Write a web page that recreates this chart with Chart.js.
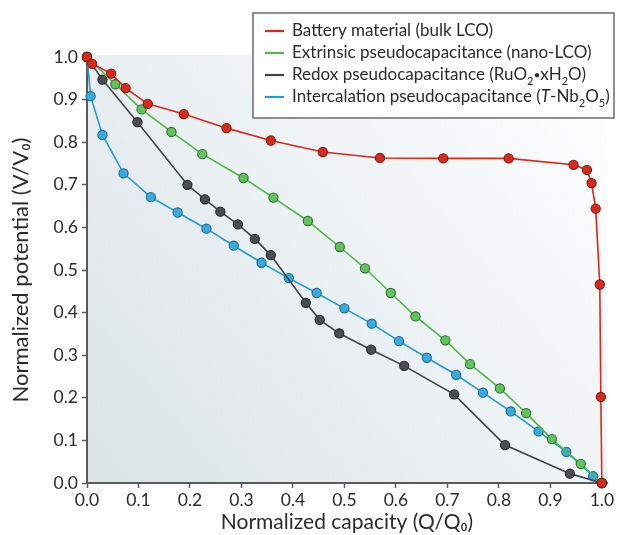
<!DOCTYPE html>
<html>
<head>
<meta charset="utf-8">
<script src="https://cdn.jsdelivr.net/npm/chart.js@4.4.1/dist/chart.umd.min.js"></script>
<style>
  html, body { margin: 0; padding: 0; background: #fff; }
  #wrap { width: 622px; height: 535px; position: relative; }
</style>
</head>
<body>
<div id="wrap"><canvas id="Chart1"></canvas></div>
<script>
// normalized capacity (Q/Q0) and potential (V/V0) for each material
var batteryQ = [0, 0.010, 0.047, 0.075, 0.118, 0.188, 0.271, 0.357, 0.458, 0.569, 0.692, 0.819, 0.945, 0.971, 0.980, 0.988, 0.996, 0.998, 1.0];
var batteryV = [1.0, 0.984, 0.961, 0.927, 0.890, 0.866, 0.833, 0.804, 0.777, 0.763, 0.762, 0.762, 0.747, 0.735, 0.704, 0.644, 0.466, 0.202, 0.0];

var extrinsicQ = [0, 0.055, 0.106, 0.164, 0.224, 0.304, 0.362, 0.429, 0.491, 0.540, 0.590, 0.638, 0.696, 0.744, 0.802, 0.853, 0.903, 0.959, 1.0];
var extrinsicV = [1.0, 0.936, 0.877, 0.824, 0.772, 0.716, 0.670, 0.615, 0.554, 0.504, 0.446, 0.391, 0.335, 0.279, 0.222, 0.164, 0.103, 0.045, 0.0];

var redoxQ = [0, 0.030, 0.098, 0.195, 0.229, 0.259, 0.293, 0.326, 0.357, 0.425, 0.452, 0.490, 0.552, 0.616, 0.713, 0.812, 0.938, 1.0];
var redoxV = [1.0, 0.947, 0.847, 0.700, 0.666, 0.637, 0.607, 0.573, 0.535, 0.423, 0.383, 0.351, 0.313, 0.275, 0.208, 0.089, 0.022, 0.0];

var intercalQ = [0, 0.007, 0.030, 0.071, 0.124, 0.176, 0.232, 0.285, 0.339, 0.392, 0.446, 0.500, 0.553, 0.606, 0.660, 0.717, 0.769, 0.823, 0.877, 0.931, 0.983, 1.0];
var intercalV = [1.0, 0.908, 0.817, 0.727, 0.671, 0.635, 0.597, 0.557, 0.517, 0.481, 0.446, 0.410, 0.374, 0.333, 0.294, 0.254, 0.212, 0.168, 0.121, 0.073, 0.016, 0.0];

var xTicks = [0, 0.1, 0.2, 0.3, 0.4, 0.5, 0.6, 0.7, 0.8, 0.9, 1.0];
var yTicks = [0, 0.1, 0.2, 0.3, 0.4, 0.5, 0.6, 0.7, 0.8, 0.9, 1.0];

// legend entries as text runs: [text, style] where style is '', 'sub', 'dot' or 'it'
var legendRuns = [
	[["Battery material (bulk LCO)", ""]],
	[["Extrinsic pseudocapacitance (nano-LCO)", ""]],
	[["Redox pseudocapacitance (RuO", ""], ["2", "sub"], ["\u2022", "dot"], ["xH", ""], ["2", "sub"], ["O)", ""]],
	[["Intercalation pseudocapacitance (", ""], ["T", "it"], ["-Nb", ""], ["2", "sub"], ["O", ""], ["5", "sub"], [")", ""]]
];

var FONT = "Lato, 'Open Sans', sans-serif";

function pts(xs, ys) {
	return xs.map(function (x, i) { return { x: x, y: ys[i] }; });
}

function series(xs, ys, line, fill, edge) {
	return {
		data: pts(xs, ys),
		borderColor: line,
		backgroundColor: fill,
		borderWidth: 1.6,
		pointRadius: 4.6,
		pointHoverRadius: 4.6,
		pointBorderWidth: 1.1,
		pointBackgroundColor: fill,
		pointBorderColor: edge,
		tension: 0,
		clip: false
	};
}

// shaded plot background, darker toward the origin
var plotBg = {
	id: 'plotBg',
	beforeDraw: function (chart) {
		var a = chart.chartArea, c = chart.ctx;
		var g = c.createLinearGradient(a.left, a.bottom, a.right, a.top);
		g.addColorStop(0, '#dbe3e6');
		g.addColorStop(0.5, '#ecf1f3');
		g.addColorStop(1, '#ffffff');
		c.save();
		c.fillStyle = g;
		c.fillRect(a.left, a.top - 2, a.right - a.left, a.bottom - a.top + 2);
		c.restore();
	}
};

// boxed legend with subscripts and italics
var richLegend = {
	id: 'richLegend',
	afterDraw: function (chart) {
		var c = chart.ctx;
		var bx = 253, by = 13, bw = 361, bh = 105;
		c.save();
		c.fillStyle = '#ffffff';
		c.fillRect(bx, by, bw, bh);
		c.strokeStyle = '#6b6b6b';
		c.lineWidth = 1.5;
		c.strokeRect(bx, by, bw, bh);
		c.textBaseline = 'middle';
		chart.data.datasets.forEach(function (ds, i) {
			var y = 31 + i * 22;
			c.strokeStyle = ds.borderColor;
			c.lineWidth = 2.2;
			c.beginPath();
			c.moveTo(265, y);
			c.lineTo(284, y);
			c.stroke();
			var x = 292;
			legendRuns[i].forEach(function (r) {
				var txt = r[0], st = r[1];
				var size = st === 'sub' ? 11 : (st === 'dot' ? 12 : 17);
				c.font = (st === 'it' ? 'italic ' : '') + size + 'px ' + FONT;
				c.fillStyle = '#2b2b2b';
				c.fillText(txt, x, st === 'sub' ? y + 6 : y);
				x += c.measureText(txt).width;
			});
		});
		c.restore();
	}
};

var context = document.getElementById("Chart1").getContext("2d");

var myChart = new Chart(context, {
	type: 'line',
	data: {
		datasets: [
			series(batteryQ, batteryV, '#d8291d', '#d8291d', '#7d1b14'),
			series(extrinsicQ, extrinsicV, '#4fb848', '#62c25e', '#2f7030'),
			series(redoxQ, redoxV, '#404347', '#4a4d52', '#222426'),
			series(intercalQ, intercalV, '#1f9dd6', '#3aaade', '#1b6a92')
		]
	},
	options: {
		responsive: true,
		maintainAspectRatio: false,
		animation: false,
		events: [],
		layout: { padding: { left: 0, top: 57, right: 15, bottom: 0 } },
		plugins: {
			legend: { display: false },
			tooltip: { enabled: false }
		},
		scales: {
			x: {
				type: 'linear',
				min: 0,
				max: 1.01,
				afterBuildTicks: function (scale) {
					scale.ticks = xTicks.map(function (v) { return { value: v }; });
				},
				afterFit: function (scale) { scale.height = 52; },
				grid: {
					drawOnChartArea: false,
					drawTicks: true,
					tickLength: 5,
					tickColor: '#5a5a5a',
					tickWidth: 1.5
				},
				border: { display: true, color: '#5a5a5a', width: 2 },
				ticks: {
					padding: 2,
					color: '#2b2b2b',
					font: { family: FONT, size: 17.5 },
					maxRotation: 0,
					callback: function (v) { return v.toFixed(1); }
				},
				title: {
					display: true,
					text: 'Normalized capacity (Q/Q\u2080)',
					color: '#2b2b2b',
					font: { family: FONT, size: 21 },
					padding: { top: 0, bottom: 0 }
				}
			},
			y: {
				type: 'linear',
				min: 0,
				max: 1.0,
				afterBuildTicks: function (scale) {
					scale.ticks = yTicks.map(function (v) { return { value: v }; });
				},
				afterFit: function (scale) { scale.width = 87; },
				grid: {
					drawOnChartArea: false,
					drawTicks: true,
					tickLength: 5,
					tickColor: '#5a5a5a',
					tickWidth: 1.5
				},
				border: { display: true, color: '#5a5a5a', width: 2 },
				ticks: {
					padding: 4,
					color: '#2b2b2b',
					font: { family: FONT, size: 17.5 },
					callback: function (v) { return v.toFixed(1); }
				},
				title: {
					display: true,
					text: 'Normalized potential (V/V\u2080)',
					color: '#2b2b2b',
					font: { family: FONT, size: 22 },
					padding: { top: 8, bottom: 0 }
				}
			}
		}
	},
	plugins: [plotBg, richLegend]
});
</script>
</body>
</html>
